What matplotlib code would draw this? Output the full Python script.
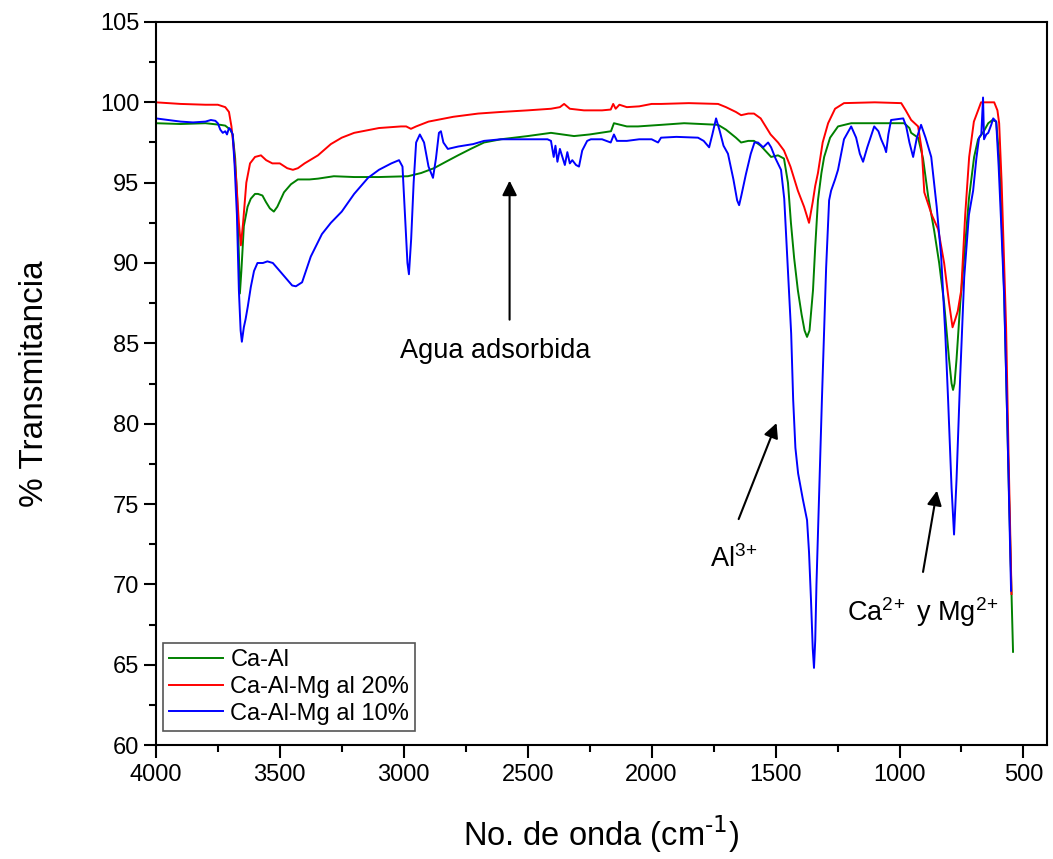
import matplotlib
matplotlib.use("Agg")
import matplotlib.pyplot as plt
from matplotlib.ticker import MultipleLocator

plt.rcParams['font.family'] = ['Liberation Sans', 'DejaVu Sans']
plt.rcParams['mathtext.default'] = 'regular'

# ---- data (wavenumber cm-1, % transmittance) ----
caal_x = [4000, 3900, 3800, 3740, 3720, 3700, 3690, 3680, 3672, 3665, 3661, 3655, 3645, 3630, 3617,
          3600, 3588, 3570, 3556, 3540, 3524, 3510, 3483, 3455, 3427, 3380, 3346, 3282, 3200, 3100,
          2983, 2930, 2878, 2830, 2781, 2730, 2676, 2608, 2500, 2406, 2313, 2250, 2164, 2152, 2100,
          2055, 1960, 1869, 1800, 1732, 1700, 1660, 1639, 1610, 1587, 1560, 1518, 1490, 1466, 1450,
          1438, 1425, 1410, 1395, 1383, 1373, 1363, 1349, 1340, 1329, 1315, 1304, 1280, 1248, 1195,
          1100, 1040, 981, 960, 953, 925, 905, 884, 860, 840, 820, 800, 790, 784, 778, 770, 755,
          739, 720, 699, 683, 660, 642, 625, 610, 598, 590, 578, 562, 550, 542]
caal_y = [98.7, 98.65, 98.7, 98.6, 98.55, 98.3, 98.0, 96.5, 94.0, 90.5, 88.1, 89.5, 92.3, 93.5, 94.0,
          94.3, 94.3, 94.2, 93.8, 93.4, 93.2, 93.5, 94.4, 94.9, 95.2, 95.2, 95.25, 95.4, 95.35, 95.35,
          95.4, 95.6, 95.9, 96.3, 96.7, 97.1, 97.5, 97.7, 97.9, 98.1, 97.9, 98.0, 98.2, 98.7, 98.5,
          98.5, 98.6, 98.7, 98.65, 98.6, 98.3, 97.8, 97.5, 97.6, 97.6, 97.3, 96.6, 96.7, 96.5, 95.0,
          92.5, 90.3, 88.3, 86.8, 85.8, 85.4, 85.8, 88.3, 91.0, 93.9, 95.6, 96.6, 97.8, 98.5, 98.7,
          98.7, 98.7, 98.7, 98.4, 98.1, 97.8, 96.5, 94.1, 92.0, 90.0, 87.5, 84.0, 82.5, 82.1, 82.5, 84.0, 87.5,
          90.4, 94.0, 96.6, 97.7, 98.2, 98.7, 98.9, 98.8, 96.6, 93.5, 88.3, 78.0, 70.5, 65.8]

mg20_x = [4000, 3900, 3800, 3750, 3720, 3705, 3695, 3685, 3675, 3665, 3657, 3648, 3635, 3620, 3600,
          3576, 3555, 3530, 3500, 3470, 3447, 3427, 3400, 3346, 3294, 3250, 3200, 3100, 3011, 2990,
          2971, 2950, 2900, 2800, 2700, 2608, 2500, 2406, 2370, 2353, 2330, 2273, 2200, 2165, 2155,
          2145, 2130, 2100, 2050, 2000, 1962, 1850, 1732, 1700, 1660, 1639, 1610, 1587, 1560, 1520,
          1490, 1466, 1440, 1410, 1385, 1365, 1350, 1340, 1329, 1310, 1288, 1260, 1224, 1100, 993,
          975, 953, 925, 910, 900, 870, 844, 820, 800, 786, 775, 765, 751, 735, 719, 700, 683, 671,
          640, 618, 605, 598, 588, 578, 570, 560, 548]
mg20_y = [100.0, 99.9, 99.85, 99.85, 99.7, 99.4, 98.5, 97.0, 95.0, 92.5, 91.1, 92.5, 95.0, 96.2, 96.6,
          96.7, 96.4, 96.2, 96.2, 95.9, 95.8, 95.9, 96.2, 96.7, 97.4, 97.8, 98.1, 98.4, 98.5, 98.5,
          98.35, 98.5, 98.8, 99.1, 99.3, 99.4, 99.5, 99.6, 99.7, 99.9, 99.6, 99.5, 99.5, 99.55, 99.9,
          99.6, 99.85, 99.7, 99.75, 99.9, 99.9, 99.95, 99.9, 99.7, 99.4, 99.2, 99.3, 99.3, 99.0, 98.0,
          97.5, 97.0, 96.0, 94.5, 93.5, 92.5, 93.8, 94.8, 95.6, 97.5, 98.7, 99.6, 99.95, 100.0, 99.95,
          99.5, 98.9, 98.5, 97.0, 94.4, 93.0, 92.1, 90.0, 87.5, 86.0, 86.5, 87.0, 88.3, 93.0, 96.6, 98.8, 99.5, 100.0,
          100.0, 100.0, 99.5, 98.7, 95.0, 90.0, 86.0, 78.0, 69.4]

mg10_x = [4000, 3950, 3900, 3850, 3800, 3778, 3760, 3750, 3740, 3730, 3720, 3713, 3705, 3698, 3690,
          3682, 3673, 3665, 3658, 3653, 3645, 3638, 3629, 3617, 3604, 3590, 3568, 3550, 3528, 3500,
          3467, 3450, 3435, 3410, 3375, 3330, 3294, 3250, 3200, 3144, 3100, 3050, 3019, 3005, 2995,
          2985, 2979, 2970, 2960, 2950, 2935, 2918, 2900, 2882, 2870, 2858, 2850, 2840, 2822, 2780,
          2720, 2676, 2608, 2500, 2420, 2406, 2395, 2388, 2380, 2370, 2360, 2350, 2340, 2330, 2320,
          2305, 2293, 2280, 2260, 2245, 2200, 2165, 2152, 2140, 2100, 2050, 2000, 1974, 1962, 1900,
          1813, 1790, 1768, 1755, 1740, 1725, 1710, 1692, 1670, 1655, 1647, 1638, 1620, 1600, 1585,
          1571, 1550, 1530, 1518, 1500, 1478, 1465, 1455, 1446, 1437, 1429, 1420, 1409, 1390, 1373,
          1365, 1357, 1350, 1345, 1340, 1335, 1329, 1313, 1296, 1284, 1276, 1260, 1248, 1224, 1195,
          1175, 1160, 1147, 1130, 1102, 1085, 1074, 1060, 1054, 1045, 1034, 985, 973, 960, 945,
          930, 913, 895, 872, 850, 832, 815, 804, 790, 780, 770, 755, 739, 720, 703, 690, 679,
          670, 663, 659, 650, 642, 630, 622, 610, 600, 590, 578, 565, 550]
mg10_y = [99.0, 98.9, 98.8, 98.75, 98.8, 98.9, 98.85, 98.7, 98.3, 98.1, 98.2, 98.0, 98.4, 98.3, 98.0,
          96.0, 93.0, 88.3, 85.8, 85.1, 86.0, 86.5, 87.3, 88.5, 89.5, 90.0, 90.0, 90.1, 90.0, 89.5,
          88.9, 88.6, 88.55, 88.8, 90.4, 91.8, 92.5, 93.2, 94.3, 95.3, 95.8, 96.2, 96.4, 96.0, 93.0,
          90.0, 89.3, 91.5, 95.0, 97.5, 98.0, 97.5, 96.0, 95.3, 96.5, 98.1, 98.2, 97.5, 97.1, 97.25,
          97.4, 97.6, 97.7, 97.7, 97.7, 97.6, 96.6, 97.3, 96.3, 97.1, 96.6, 96.1, 96.9, 96.2, 96.4,
          96.1, 96.0, 97.0, 97.6, 97.7, 97.7, 97.5, 98.0, 97.6, 97.6, 97.7, 97.7, 97.5, 97.8, 97.85,
          97.8, 97.6, 97.2, 98.0, 99.0, 98.2, 97.3, 96.8, 95.2, 93.9, 93.6, 94.2, 95.5, 96.8, 97.5,
          97.5, 97.2, 97.5, 97.2, 96.5, 95.8, 94.0, 91.0, 88.3, 85.6, 81.5, 78.5, 76.9, 75.3, 74.0,
          72.0, 69.0, 66.0, 64.8, 66.5, 70.0, 73.2, 81.5, 89.7, 93.9, 94.5, 95.2, 95.8, 97.7, 98.5,
          97.8, 96.8, 96.3, 97.2, 98.5, 98.2, 97.7, 97.2, 96.9, 98.0, 98.9, 99.0, 98.5, 97.5, 96.6,
          97.8, 98.6, 97.8, 96.6, 93.5, 90.4, 85.5, 81.5, 76.0, 73.1, 76.5, 83.0, 89.1, 93.0, 94.5, 96.5, 97.8,
          98.0, 100.3, 97.7, 98.0, 98.1, 98.6, 99.0, 98.8, 96.0, 92.5, 88.0, 80.0, 69.6]

series_labels = ['Ca-Al', 'Ca-Al-Mg al 20%', 'Ca-Al-Mg al 10%']
series_colors = ['#008000', '#ff0000', '#0000ff']

fig = plt.figure(figsize=(10.53, 8.59), dpi=100)
ax = fig.add_axes([0.148, 0.1327, 0.8463, 0.8417])

for xs, ys, lab, col in zip([caal_x, mg20_x, mg10_x], [caal_y, mg20_y, mg10_y],
                            series_labels, series_colors):
    ax.plot(xs, ys, color=col, lw=1.4, label=lab)

ax.set_xlim(4000, 405)
ax.set_ylim(60, 105)
ax.xaxis.set_major_locator(MultipleLocator(500))
ax.xaxis.set_minor_locator(MultipleLocator(250))
ax.yaxis.set_major_locator(MultipleLocator(5))
ax.yaxis.set_minor_locator(MultipleLocator(2.5))
ax.tick_params(which='major', direction='out', length=9, width=1.5, labelsize=17)
ax.tick_params(axis='y', which='major', pad=3)
ax.tick_params(axis='x', which='major', pad=5)
ax.tick_params(which='minor', direction='out', length=5, width=1.5)
ax.tick_params(top=False, right=False)
for sp in ax.spines.values():
    sp.set_linewidth(1.5)

ax.set_xlabel(r'No. de onda (cm$^{\text{-1}}$)', fontsize=23.5, labelpad=20)
ax.set_ylabel('% Transmitancia', fontsize=24, labelpad=36)

arrow = dict(arrowstyle='-|>', color='black', lw=1.5, mutation_scale=22)
ax.annotate('', xy=(2573, 95.3), xytext=(2573, 86.3), arrowprops=arrow)
ax.text(2629, 84.1, 'Agua adsorbida', fontsize=19.5, ha='center', va='baseline')
ax.annotate('', xy=(1492, 80.2), xytext=(1653, 73.9), arrowprops=arrow)
ax.text(1766, 71.1, r'Al$^{3\!+}$', fontsize=19.5, ha='left', va='baseline')
ax.annotate('', xy=(847, 76.0), xytext=(907, 70.6), arrowprops=arrow)
ax.text(1210, 67.7, r'Ca$^{2\!+}$ y Mg$^{2\!+}$', fontsize=19.5, ha='left', va='baseline')

leg = ax.legend(loc='lower left', bbox_to_anchor=(0.008, 0.02), borderaxespad=0,
                fontsize=17, handlelength=2.3, handletextpad=0.3, labelspacing=0.2,
                borderpad=0.25, fancybox=False, framealpha=1)
leg.get_frame().set_edgecolor('#555555')
leg.get_frame().set_linewidth(1.2)

fig.savefig('out.png', dpi=100)
